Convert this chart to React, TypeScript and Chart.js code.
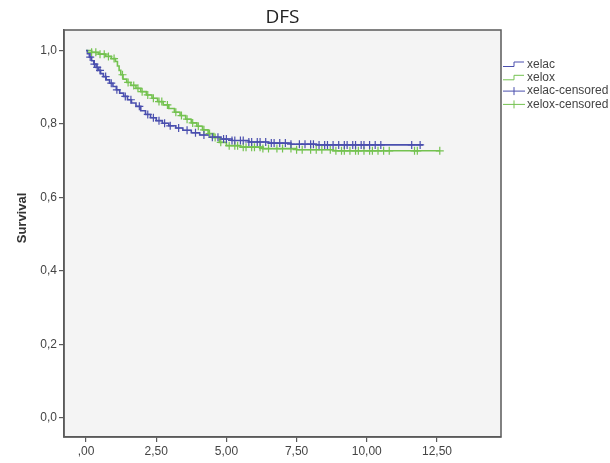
import React, { useEffect, useRef } from "react";
import { Chart, registerables } from "chart.js";

Chart.register(...registerables);

// Kaplan-Meier estimates: event times (years) and survival after each event
const xelacTimes = [0.05, 0.12, 0.2, 0.28, 0.36, 0.44, 0.52, 0.62, 0.72, 0.84, 0.96, 1.08, 1.2, 1.34, 1.48, 1.62, 1.78, 1.95, 2.12, 2.3, 2.5, 2.72, 2.95, 3.2, 3.45, 3.75, 4.05, 4.4, 4.8, 5.2, 5.8, 6.5, 7.3, 8.2];
const xelacSurv = [0.991, 0.982, 0.972, 0.963, 0.954, 0.946, 0.937, 0.929, 0.92, 0.911, 0.902, 0.893, 0.884, 0.875, 0.866, 0.857, 0.848, 0.836, 0.826, 0.817, 0.809, 0.802, 0.795, 0.789, 0.783, 0.776, 0.77, 0.764, 0.759, 0.755, 0.751, 0.748, 0.745, 0.743];
const xelacEnd = 12.0;

const xeloxTimes = [0.2, 0.45, 0.7, 0.9, 1.05, 1.12, 1.18, 1.24, 1.32, 1.45, 1.6, 1.78, 1.95, 2.15, 2.35, 2.55, 2.75, 2.95, 3.15, 3.35, 3.55, 3.75, 3.95, 4.15, 4.35, 4.55, 4.75, 5.0, 5.5, 6.3, 7.5, 8.8];
const xeloxSurv = [0.995, 0.99, 0.984, 0.978, 0.97, 0.958, 0.946, 0.934, 0.922, 0.913, 0.905, 0.897, 0.888, 0.879, 0.87, 0.861, 0.852, 0.842, 0.832, 0.823, 0.813, 0.803, 0.794, 0.784, 0.774, 0.763, 0.75, 0.741, 0.737, 0.733, 0.73, 0.727];
const xeloxEnd = 12.6;

// Censored observation times
const xelacCensored = [0.15, 0.3, 0.4, 0.5, 0.7, 0.9, 1.1, 1.4, 1.6, 1.9, 2.2, 2.4, 2.6, 2.8, 3.0, 3.3, 3.6, 3.9, 4.2, 4.5, 4.7, 4.9, 5.0, 5.2, 5.3, 5.5, 5.6, 5.8, 5.9, 6.1, 6.2, 6.4, 6.6, 6.7, 6.9, 7.1, 7.3, 7.6, 7.8, 8.0, 8.1, 8.3, 8.5, 8.6, 8.8, 9.0, 9.2, 9.3, 9.5, 9.6, 9.8, 9.9, 10.1, 10.3, 10.5, 11.6, 11.9];
const xeloxCensored = [0.2, 0.35, 0.5, 0.65, 0.8, 1.0, 1.3, 1.5, 1.7, 1.85, 2.0, 2.2, 2.4, 2.6, 2.7, 2.9, 3.2, 3.4, 3.6, 3.8, 4.0, 4.2, 4.4, 4.6, 4.8, 5.1, 5.3, 5.4, 5.6, 5.7, 5.9, 6.0, 6.2, 6.3, 6.5, 6.8, 7.0, 7.3, 7.5, 7.7, 8.0, 8.2, 8.4, 8.7, 8.9, 9.1, 9.2, 9.4, 9.6, 9.7, 9.9, 10.1, 10.2, 10.4, 10.6, 10.8, 11.7, 11.8, 12.6];

const xTickValues = [0, 2.5, 5, 7.5, 10, 12.5];
const xTickLabels = [",00", "2,50", "5,00", "7,50", "10,00", "12,50"];
const yTickValues = [0, 0.2, 0.4, 0.6, 0.8, 1.0];
const yTickLabels = ["0,0", "0,2", "0,4", "0,6", "0,8", "1,0"];

const seriesNames = ["xelac", "xelox", "xelac-censored", "xelox-censored"];
const BLUE = "#4a4fae";
const GREEN = "#74c250";
const FRAME = "#5a5a5a";
const TEXT = "#444444";

function survivalAt(times: number[], surv: number[], t: number): number {
  let s = 1;
  for (let i = 0; i < times.length; i++) {
    if (times[i] <= t) s = surv[i];
  }
  return s;
}

function stepPoints(times: number[], surv: number[], end: number) {
  const pts = [{ x: 0, y: 1 }];
  times.forEach((t, i) => pts.push({ x: t, y: surv[i] }));
  pts.push({ x: end, y: surv[surv.length - 1] });
  return pts;
}

function censorPoints(times: number[], surv: number[], cens: number[]) {
  return cens.map((t) => ({ x: t, y: survivalAt(times, surv, t) }));
}

const decorations = {
  id: "decorations",
  beforeDraw(chart: any) {
    const { ctx, chartArea: a } = chart;
    ctx.save();
    ctx.fillStyle = "#ffffff";
    ctx.fillRect(0, 0, chart.width, chart.height);
    ctx.fillStyle = "#f4f4f4";
    ctx.fillRect(a.left, a.top, a.right - a.left, a.bottom - a.top);
    ctx.restore();
  },
  afterDraw(chart: any) {
    const { ctx, chartArea: a } = chart;
    ctx.save();
    // frame
    ctx.strokeStyle = FRAME;
    ctx.lineWidth = 1.5;
    ctx.strokeRect(a.left, a.top, a.right - a.left, a.bottom - a.top);

    // title
    ctx.fillStyle = "#222222";
    ctx.font = '19px "Open Sans", sans-serif';
    ctx.textAlign = "center";
    ctx.textBaseline = "middle";
    ctx.fillText("DFS", (a.left + a.right) / 2, 18);

    // y axis title
    ctx.save();
    ctx.translate(22, 218);
    ctx.rotate(-Math.PI / 2);
    ctx.font = 'bold 13px "Liberation Sans", Arial, sans-serif';
    ctx.fillStyle = "#333333";
    ctx.fillText("Survival", 0, 0);
    ctx.restore();

    // legend
    const colors = [BLUE, GREEN, BLUE, GREEN];
    ctx.font = '12px "Liberation Sans", Arial, sans-serif';
    ctx.textAlign = "left";
    ctx.textBaseline = "middle";
    seriesNames.forEach((name, i) => {
      const y = 64.5 + i * 13.3;
      ctx.strokeStyle = colors[i];
      ctx.lineWidth = 1;
      ctx.beginPath();
      if (i < 2) {
        ctx.moveTo(503, y + 2);
        ctx.lineTo(514, y + 2);
        ctx.lineTo(514, y - 2.5);
        ctx.lineTo(524, y - 2.5);
      } else {
        ctx.moveTo(503, y);
        ctx.lineTo(525, y);
        ctx.moveTo(514, y - 4);
        ctx.lineTo(514, y + 4);
      }
      ctx.stroke();
      ctx.fillStyle = TEXT;
      ctx.fillText(name, 527, y);
    });
    ctx.restore();
  },
};

export default function App() {
  const ref = useRef<HTMLCanvasElement | null>(null);

  useEffect(() => {
    if (!ref.current) return;
    const tickFont = { family: '"Liberation Sans", Arial, sans-serif', size: 12 };
    const chart = new Chart(ref.current, {
      type: "line",
      data: {
        datasets: [
          {
            label: seriesNames[2],
            data: censorPoints(xelacTimes, xelacSurv, xelacCensored),
            showLine: false,
            pointStyle: "cross",
            pointRadius: 4,
            borderColor: BLUE,
            borderWidth: 1.2,
          },
          {
            label: seriesNames[3],
            data: censorPoints(xeloxTimes, xeloxSurv, xeloxCensored),
            showLine: false,
            pointStyle: "cross",
            pointRadius: 4,
            borderColor: GREEN,
            borderWidth: 1.2,
          },
          {
            label: seriesNames[0],
            data: stepPoints(xelacTimes, xelacSurv, xelacEnd),
            stepped: true,
            borderColor: BLUE,
            borderWidth: 1.6,
            pointRadius: 0,
            fill: false,
          },
          {
            label: seriesNames[1],
            data: stepPoints(xeloxTimes, xeloxSurv, xeloxEnd),
            stepped: true,
            borderColor: GREEN,
            borderWidth: 1.6,
            pointRadius: 0,
            fill: false,
          },
        ],
      },
      options: {
        responsive: false,
        animation: false,
        layout: { padding: { top: 30, right: 109, left: 0, bottom: 0 } },
        plugins: {
          legend: { display: false },
          title: { display: false },
          tooltip: { enabled: false },
        },
        scales: {
          x: {
            type: "linear",
            min: -0.783,
            max: 14.78,
            afterBuildTicks: (s: any) => {
              s.ticks = xTickValues.map((v) => ({ value: v }));
            },
            afterFit: (s: any) => {
              s.height = 26;
            },
            ticks: {
              callback: (_v: any, i: number) => xTickLabels[i],
              font: tickFont,
              color: TEXT,
              padding: 2,
              maxRotation: 0,
              autoSkip: false,
            },
            grid: { drawOnChartArea: false, drawTicks: true, tickLength: 5, color: FRAME, lineWidth: 1.2 },
            border: { display: true, color: FRAME, width: 1.5 },
          },
          y: {
            type: "linear",
            min: -0.052,
            max: 1.0558,
            afterBuildTicks: (s: any) => {
              s.ticks = yTickValues.map((v) => ({ value: v }));
            },
            afterFit: (s: any) => {
              s.width = 64;
            },
            ticks: {
              callback: (_v: any, i: number) => yTickLabels[i],
              font: tickFont,
              color: TEXT,
              padding: 2,
              autoSkip: false,
            },
            grid: { drawOnChartArea: false, drawTicks: true, tickLength: 5, color: FRAME, lineWidth: 1.2 },
            border: { display: true, color: FRAME, width: 1.5 },
          },
        },
      },
      plugins: [decorations],
    });
    return () => chart.destroy();
  }, []);

  return (
    <div style={{ position: "fixed", left: 0, top: 0, width: 610, height: 463, background: "#fff" }}>
      <canvas ref={ref} width={610} height={463} />
    </div>
  );
}
